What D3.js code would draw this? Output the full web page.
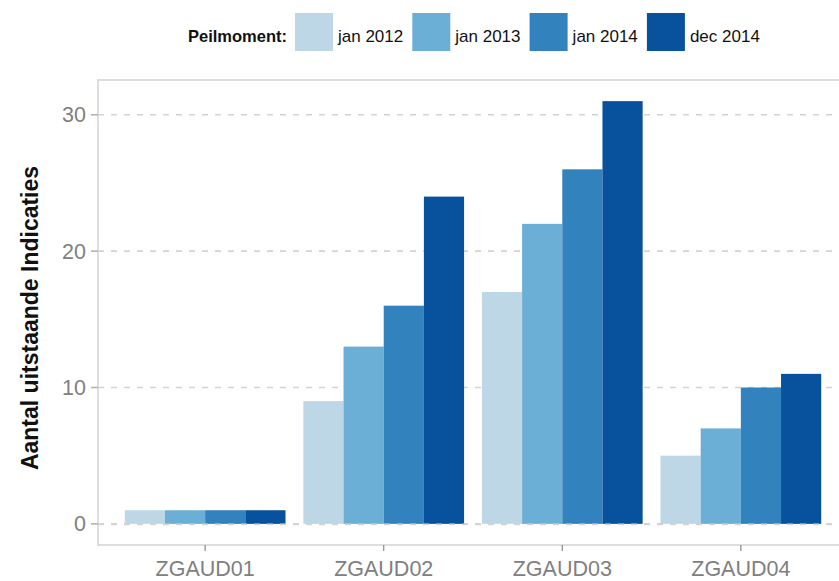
<!DOCTYPE html>
<meta charset="utf-8">
<style>
body { margin: 0; background: #fff; }
text { font-family: "Liberation Sans", Arial, sans-serif; }
.grid line { stroke: #d4d4d4; stroke-width: 1.6px; stroke-dasharray: 6,7; }
.tick-label { fill: #808080; font-size: 21.5px; }
</style>
<svg width="839" height="581"></svg>
<script src="https://d3js.org/d3.v7.min.js"></script>
<script>

var categories = ["ZGAUD01", "ZGAUD02", "ZGAUD03", "ZGAUD04"];
var series = ["jan 2012", "jan 2013", "jan 2014", "dec 2014"];
var jan2012 = [1, 9, 17, 5];
var jan2013 = [1, 13, 22, 7];
var jan2014 = [1, 16, 26, 10];
var dec2014 = [1, 24, 31, 11];
var yTicks = [0, 10, 20, 30];
var colors = ["#bdd7e7", "#6baed6", "#3182bd", "#08519c"];

var values = [jan2012, jan2013, jan2014, dec2014];
var data = categories.map(function(c, i) {
  return {cat: c, vals: series.map(function(s, j) { return {key: s, value: values[j][i]}; })};
});

var svg = d3.select("svg"),
    panel = {left: 98, right: 848, top: 80, bottom: 545};

var x0 = d3.scaleBand()
    .domain(categories)
    .range([panel.left, panel.right])
    .paddingInner(0.1)
    .paddingOuter(0.15);

var x1 = d3.scaleBand()
    .domain(series)
    .range([0, x0.bandwidth()]);

var y = d3.scaleLinear()
    .domain([-1.55, 32.55])
    .range([panel.bottom, panel.top]);

var color = d3.scaleOrdinal().domain(series).range(colors);

// grid
var grid = svg.append("g").attr("class", "grid");
grid.selectAll("line")
    .data(yTicks)
  .enter().append("line")
    .attr("x1", panel.left)
    .attr("x2", panel.right)
    .attr("y1", function(d) { return y(d); })
    .attr("y2", function(d) { return y(d); });

// bars
svg.append("g")
  .selectAll("g")
  .data(data)
  .enter().append("g")
    .attr("transform", function(d) { return "translate(" + x0(d.cat) + ",0)"; })
  .selectAll("rect")
  .data(function(d) { return d.vals; })
  .enter().append("rect")
    .attr("x", function(d) { return x1(d.key); })
    .attr("width", x1.bandwidth())
    .attr("y", function(d) { return y(d.value); })
    .attr("height", function(d) { return y(0) - y(d.value); })
    .attr("fill", function(d) { return color(d.key); });

// zero line shows over the bar bottoms
svg.append("g").attr("class", "grid")
  .append("line")
    .attr("x1", panel.left).attr("x2", panel.right)
    .attr("y1", y(0) + 0.5).attr("y2", y(0) + 0.5);

// panel border
svg.append("rect")
    .attr("x", panel.left)
    .attr("y", panel.top)
    .attr("width", panel.right - panel.left)
    .attr("height", panel.bottom - panel.top)
    .attr("fill", "none")
    .attr("stroke", "#d6d6d6")
    .attr("stroke-width", 1.6);

// y axis
var yAxis = svg.append("g");
yAxis.selectAll("line")
    .data(yTicks)
  .enter().append("line")
    .attr("x1", panel.left - 7).attr("x2", panel.left)
    .attr("y1", function(d) { return y(d); })
    .attr("y2", function(d) { return y(d); })
    .attr("stroke", "#b3b3b3")
    .attr("stroke-width", 1.6);
yAxis.selectAll("text")
    .data(yTicks)
  .enter().append("text")
    .attr("class", "tick-label")
    .attr("x", panel.left - 12)
    .attr("y", function(d) { return y(d); })
    .attr("dy", "0.35em")
    .attr("text-anchor", "end")
    .text(function(d) { return d; });

// x axis
var xAxis = svg.append("g");
xAxis.selectAll("line")
    .data(categories)
  .enter().append("line")
    .attr("x1", function(d) { return x0(d) + x0.bandwidth() / 2; })
    .attr("x2", function(d) { return x0(d) + x0.bandwidth() / 2; })
    .attr("y1", panel.bottom).attr("y2", panel.bottom + 6)
    .attr("stroke", "#8a8a8a")
    .attr("stroke-width", 1.2);
xAxis.selectAll("text")
    .data(categories)
  .enter().append("text")
    .attr("class", "tick-label")
    .attr("x", function(d) { return x0(d) + x0.bandwidth() / 2; })
    .attr("y", 576)
    .attr("text-anchor", "middle")
    .text(function(d) { return d; });

// y title
svg.append("text")
    .attr("transform", "translate(38,318) rotate(-90)")
    .attr("text-anchor", "middle")
    .style("font-size", "23px")
    .style("font-weight", "bold")
    .attr("fill", "#111")
    .text("Aantal uitstaande Indicaties");

// legend
var legend = svg.append("g");
legend.append("text")
    .attr("x", 188)
    .attr("y", 42)
    .style("font-size", "16.5px")
    .style("font-weight", "bold")
    .attr("fill", "#111")
    .text("Peilmoment:");

var item = legend.selectAll(".item")
    .data(series)
  .enter().append("g")
    .attr("class", "item")
    .attr("transform", function(d, i) { return "translate(" + (295 + i * 117.3) + ",13)"; });
item.append("rect")
    .attr("width", 38)
    .attr("height", 38)
    .attr("fill", function(d) { return color(d); });
item.append("text")
    .attr("x", 43)
    .attr("y", 29)
    .style("font-size", "17px")
    .attr("fill", "#111")
    .text(function(d) { return d; });

</script>
